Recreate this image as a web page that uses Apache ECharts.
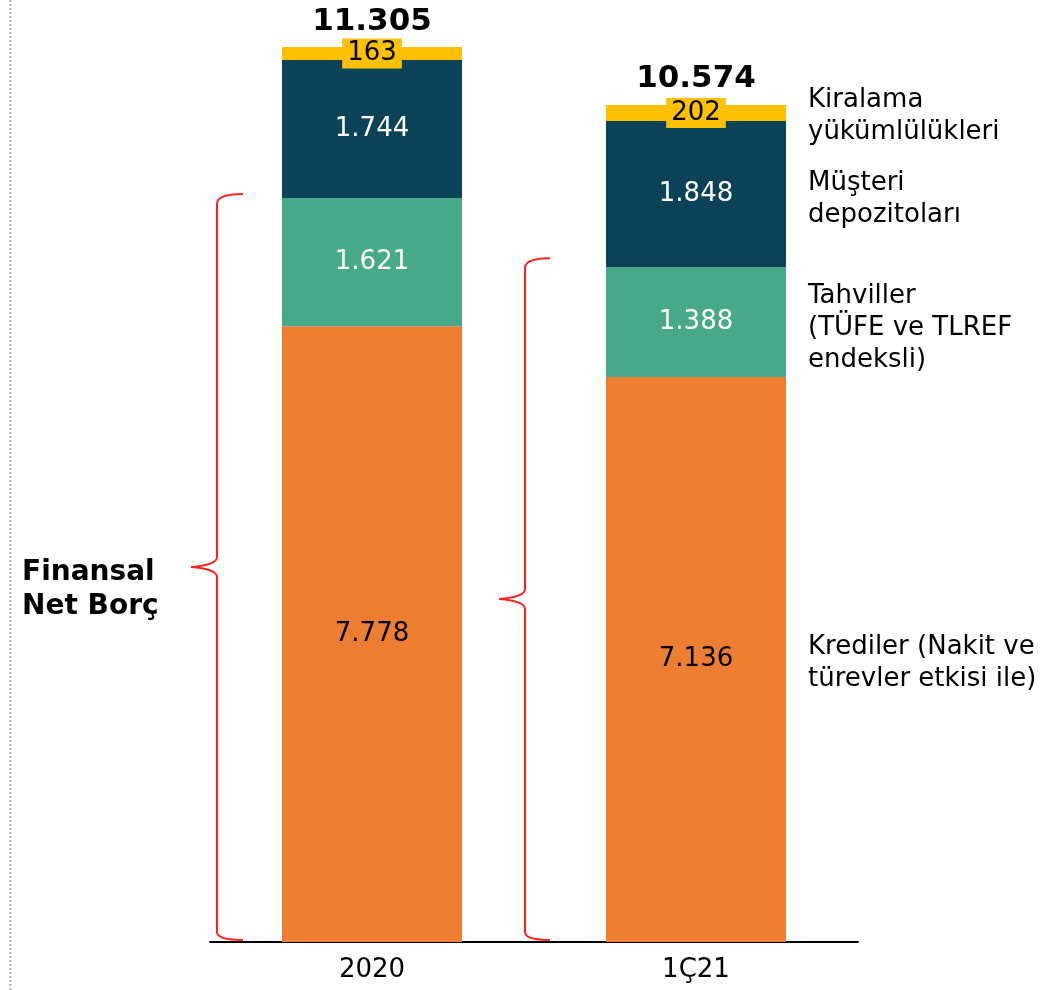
<!DOCTYPE html>
<html>
<head>
<meta charset="utf-8">
<script src="https://cdn.jsdelivr.net/npm/echarts@6/dist/echarts.min.js"></script>
<style>html,body{margin:0;padding:0;background:#fff}#c{width:1050px;height:990px}</style>
</head>
<body>
<div id="c"></div>
<script>
const categories = ['2020', '1Ç21'];
const krediler = [7778, 7136];
const tahviller = [1621, 1388];
const depozito = [1744, 1848];
const kiralama = [163, 202];
const totals = [11305, 10574];
const seriesNames = [
  'Krediler (Nakit ve\ntürevler etkisi ile)',
  'Tahviller\n(TÜFE ve TLREF\nendeksli)',
  'Müşteri\ndepozitoları',
  'Kiralama\nyükümlülükleri'
];
const colors = ['#ED7D31', '#48A88A', '#0B4257', '#FFC000'];
const labelColors = ['#000', '#fff', '#fff', '#000'];
const seriesData = [krediler, tahviller, depozito, kiralama];
const sideOffsets = [4, 6, 5, 3];

const fmt = v => v.toLocaleString('de-DE');
const FONT = 'DejaVu Sans';

const lastIdx = categories.length - 1;
const stackSums = categories.map((_, i) => seriesData.reduce((s, d) => s + d[i], 0));
const series = seriesData.map((d, si) => {
  let below = 0;
  for (let k = 0; k < si; k++) below += seriesData[k][lastIdx];
  const s = {
    name: seriesNames[si],
    type: 'bar',
    stack: 'a',
    barWidth: 180,
    clip: false,
    data: d,
    itemStyle: { color: colors[si] },
    label: {
      show: true,
      position: 'inside',
      formatter: p => fmt(p.value),
      color: labelColors[si],
      fontFamily: FONT,
      fontSize: 26
    },
    markPoint: {
      symbol: 'circle',
      symbolSize: 0,
      silent: true,
      data: [{ coord: [lastIdx, below + d[lastIdx] / 2] }],
      label: {
        show: true,
        position: 'right',
        distance: 112,
        offset: [0, sideOffsets[si]],
        formatter: seriesNames[si],
        color: '#000',
        fontFamily: FONT,
        fontSize: 26,
        lineHeight: 32,
        align: 'left'
      }
    }
  };
  if (si === 3) {
    s.label.backgroundColor = '#FFC000';
    s.label.padding = [2, 5, 2, 5];
  }
  return s;
});
series.push({
  name: 'total',
  type: 'bar',
  stack: 'a',
  barWidth: 180,
  clip: false,
  data: categories.map(() => 0),
  label: {
    show: true,
    position: 'top',
    distance: 10,
    formatter: p => fmt(totals[p.dataIndex]),
    color: '#000',
    fontFamily: FONT,
    fontWeight: 'bold',
    fontSize: 31
  }
});

const chart = echarts.init(document.getElementById('c'));
chart.setOption({
  animation: false,
  grid: { left: 210, right: 192, top: 47, bottom: 48 },
  xAxis: {
    type: 'category',
    data: categories,
    axisLine: { lineStyle: { color: '#000', width: 2 } },
    axisTick: { show: false },
    axisLabel: { color: '#000', fontFamily: FONT, fontSize: 26, margin: 15 }
  },
  yAxis: {
    type: 'value',
    min: 0,
    max: Math.max(...stackSums),
    show: false,
    splitLine: { show: false }
  },
  series: series
});

// annotations: braces and dotted line
const braceStyle = { stroke: '#FF2020', lineWidth: 2, fill: null };
function brace(xLine, xHook, xTip, top, bottom) {
  const mid = (top + bottom) / 2;
  const el = [];
  const bz = (x1, y1, x2, y2, cx, cy) => el.push({ type: 'bezierCurve', shape: { x1, y1, x2, y2, cpx1: cx, cpy1: cy }, style: braceStyle });
  const ln = (x1, y1, x2, y2) => el.push({ type: 'line', shape: { x1, y1, x2, y2 }, style: braceStyle });
  bz(xHook, top, xLine, top + 10, xLine, top);
  ln(xLine, top + 10, xLine, mid - 10);
  bz(xLine, mid - 10, xTip, mid, xLine, mid - 2);
  bz(xTip, mid, xLine, mid + 10, xLine, mid + 2);
  ln(xLine, mid + 10, xLine, bottom - 8);
  bz(xLine, bottom - 8, xHook, bottom, xLine, bottom);
  return el;
}
const yBase = chart.convertToPixel({ gridIndex: 0 }, [0, 0])[1];
const yTop1 = chart.convertToPixel({ gridIndex: 0 }, [0, krediler[0] + tahviller[0]])[1] - 4;
const yTop2 = chart.convertToPixel({ gridIndex: 0 }, [1, krediler[1] + tahviller[1]])[1] - 9;

chart.setOption({
  graphic: [
    {
      type: 'line',
      shape: { x1: 10.5, y1: 0, x2: 10.5, y2: 990 },
      style: { stroke: '#b0b0b0', lineWidth: 2, lineDash: [2, 2] }
    },
    ...brace(217, 243, 191, yTop1, yBase - 2),
    ...brace(525, 550, 499, yTop2, yBase - 2),
    {
      type: 'text',
      left: 22,
      top: 556,
      style: {
        text: 'Finansal\nNet Borç',
        fill: '#000',
        font: 'bold 28px "DejaVu Sans"',
        lineHeight: 34
      }
    }
  ]
});
</script>
</body>
</html>
